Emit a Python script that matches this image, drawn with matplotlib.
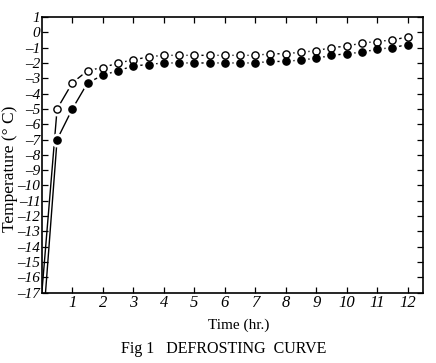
import matplotlib.pyplot as plt
import numpy as np

# time (hr.) and temperatures
time = [0.5, 1.0, 1.5, 2.0, 2.5, 3.0, 3.5, 4.0, 4.5, 5.0, 5.5, 6.0,
        6.5, 7.0, 7.5, 8.0, 8.5, 9.0, 9.5, 10.0, 10.5, 11.0, 11.5, 12.0]
open_temp = [-5.0, -3.3, -2.5, -2.3, -2.0, -1.8, -1.6, -1.5, -1.5, -1.5, -1.5, -1.5,
             -1.5, -1.5, -1.4, -1.4, -1.3, -1.2, -1.0, -0.9, -0.7, -0.6, -0.5, -0.3]
filled_temp = [-7.0, -5.0, -3.3, -2.8, -2.5, -2.2, -2.1, -2.0, -2.0, -2.0, -2.0, -2.0,
               -2.0, -2.0, -1.9, -1.9, -1.8, -1.7, -1.5, -1.4, -1.3, -1.1, -1.0, -0.8]
# start of each curve at the bottom of the scale
open_start = (0.0, -17.0)
filled_start = (0.12, -17.0)

x_ticks = list(range(1, 13))
y_ticks = list(range(-17, 2))

plt.rcParams['font.family'] = ['Liberation Serif', 'DejaVu Serif']

fig = plt.figure(figsize=(4.36, 3.63), dpi=100)
ax = fig.add_axes([0.096, 0.194, 0.874, 0.759])

ox = [open_start[0]] + time
oy = [open_start[1]] + open_temp
fx = [filled_start[0]] + time
fy = [filled_start[1]] + filled_temp

ax.plot(ox, oy, color='black', lw=1.0, zorder=2)
ax.plot(fx, fy, color='black', lw=1.0, zorder=2)
# white halo so the line breaks around each marker
ax.plot(time, open_temp, 'o', ms=9, mfc='white', mec='white', zorder=3)
ax.plot(time, filled_temp, 'o', ms=9, mfc='white', mec='white', zorder=3)
ax.plot(time, open_temp, 'o', ms=5.2, mfc='white', mec='black', mew=1.0, zorder=4)
ax.plot(time, filled_temp, 'o', ms=5.2, mfc='black', mec='black', mew=1.0, zorder=4)

ax.set_xlim(0, 12.5)
ax.set_ylim(-17, 1)
ax.set_xticks(x_ticks)
ax.set_yticks(y_ticks)
ax.set_xticklabels([str(t) for t in x_ticks], fontstyle='italic', fontsize=12)
ax.set_yticklabels([str(t).replace('-', '\u2013') for t in y_ticks],
                   fontstyle='italic', fontsize=11)
ax.tick_params(direction='in', length=4, width=0.9, pad=2,
               top=True, right=True, labeltop=False, labelright=False)
ax.tick_params(axis='y', pad=1)
for s in ax.spines.values():
    s.set_linewidth(1.2)

fig.text(0.022, 0.535, 'Temperature (° C)', rotation=90, ha='center', va='center',
         fontsize=12.5)
ax.set_xlabel('Time (hr.)', fontsize=11)
ax.xaxis.set_label_coords(0.517, -0.095)
fig.text(0.512, 0.028, 'Fig 1   DEFROSTING  CURVE', ha='center', fontsize=11.5)

plt.savefig('out.png', dpi=100)
